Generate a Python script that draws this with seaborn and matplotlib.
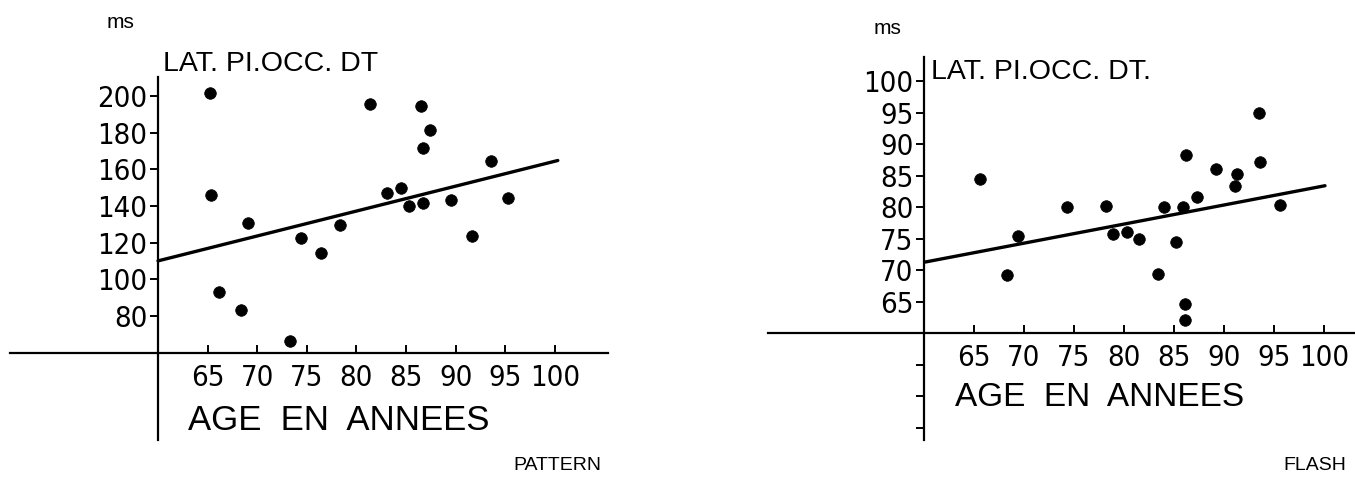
import matplotlib
matplotlib.use("Agg")
import matplotlib.pyplot as plt
from matplotlib import font_manager as fm
import seaborn as sns
import pandas as pd

# ---------------- data ----------------
pattern_age = [65.2, 65.3, 66.1, 68.4, 69.1, 73.3, 74.4, 76.4, 78.3, 81.4, 83.1,
               84.5, 85.3, 86.5, 86.7, 86.7, 87.4, 89.5, 91.7, 93.6, 95.3]
pattern_ms = [201.8, 146.0, 93.1, 83.1, 130.5, 66.7, 122.3, 114.3, 129.6, 195.6, 146.9,
              149.7, 140.2, 194.5, 171.5, 141.6, 181.2, 143.1, 123.4, 164.3, 144.2]
pattern_line_age = [60, 100.3]
pattern_line_ms = [110.1, 164.8]

flash_age = [65.6, 68.3, 69.4, 74.3, 78.2, 78.9, 80.3, 81.5, 83.4, 84.0, 85.2,
             85.9, 86.2, 86.1, 86.1, 87.3, 89.2, 91.1, 91.3, 93.5, 93.6, 95.6]
flash_ms = [84.4, 69.3, 75.4, 80.1, 80.2, 75.8, 76.1, 75.0, 69.4, 80.1, 74.5,
            80.1, 88.2, 64.7, 62.1, 81.6, 86.0, 83.4, 85.3, 95.0, 87.2, 80.4]
flash_line_age = [60.1, 100.1]
flash_line_ms = [71.3, 83.4]

x_ticks = [65, 70, 75, 80, 85, 90, 95, 100]
pattern_y_ticks = [80, 100, 120, 140, 160, 180, 200]
flash_y_ticks = [45, 50, 55, 65, 70, 75, 80, 85, 90, 95, 100]
flash_y_labels = ["", "", "", "65", "70", "75", "80", "85", "90", "95", "100"]

y_unit = "ms"
title_pattern = "LAT. PI.OCC. DT"
title_flash = "LAT. PI.OCC. DT."
x_title = "AGE  EN  ANNEES"
stim_pattern = "PATTERN"
stim_flash = "FLASH"

# ---------------- style ----------------
sns.set_theme(style="white")
plt.rcParams["font.family"] = ["Liberation Sans", "DejaVu Sans"]
plt.rcParams["text.color"] = "black"
plt.rcParams["xtick.color"] = "black"
plt.rcParams["ytick.color"] = "black"

# pick a narrow font for the tick numbers if one is installed
ttf = fm.fontManager.ttflist
names = {f.name for f in ttf}
tick_font = dict(family=["Liberation Sans", "DejaVu Sans"], fontsize=19)
if "Liberation Sans Narrow" in names:
    tick_font = dict(family=["Liberation Sans Narrow", "DejaVu Sans"], fontsize=24)
elif any(f.name == "DejaVu Sans" and str(f.stretch) in ("condensed", "semi-condensed")
         for f in ttf):
    tick_font = dict(family=["DejaVu Sans"], fontstretch="condensed", fontsize=21)
else:
    cands = sorted(f.name for f in ttf if ("Narrow" in f.name or "Condensed" in f.name))
    if cands:
        tick_font = dict(family=[cands[0], "DejaVu Sans"], fontsize=23)

W, H = 1355, 478
fig = plt.figure(figsize=(W / 100, H / 100), dpi=100)


def px_axes(x0, x1, ytop, ybot):
    return fig.add_axes([x0 / W, 1 - ybot / H, (x1 - x0) / W, (ybot - ytop) / H])


def style_axes(ax, xlim, ylim, yticks, ylabels):
    ax.set_xlim(*xlim)
    ax.set_ylim(*ylim)
    for s in ["top", "right"]:
        ax.spines[s].set_visible(False)
    ax.spines["left"].set_position(("data", 60))
    ax.spines["bottom"].set_position(("data", 60))
    for s in ["left", "bottom"]:
        ax.spines[s].set_color("black")
        ax.spines[s].set_linewidth(1.6)
    ax.set_xticks(x_ticks)
    ax.set_xticklabels([str(t) for t in x_ticks], **tick_font)
    ax.set_yticks(yticks)
    ax.set_yticklabels(ylabels, **tick_font)
    ax.tick_params(axis="x", direction="in", length=5.5, width=1.4, pad=8,
                   colors="black", bottom=True)
    ax.tick_params(axis="y", direction="out", length=5.5, width=1.4, pad=2,
                   colors="black", left=True)
    ax.set_xlabel("")
    ax.set_ylabel("")
    ax.grid(False)
    ax.patch.set_alpha(0)


# ---------------- left: PATTERN ----------------
ax1 = px_axes(10, 608, 77, 440)
df1 = pd.DataFrame({"age": pattern_age, "ms": pattern_ms})
sns.scatterplot(data=df1, x="age", y="ms", ax=ax1, color="black", s=70,
                edgecolor="black", linewidth=0.5, zorder=3)
sns.lineplot(x=pattern_line_age, y=pattern_line_ms, ax=ax1, color="black",
             linewidth=2.4, zorder=2)
style_axes(ax1, (45.08, 105.36), (12.5, 210.3), pattern_y_ticks,
           [str(t) for t in pattern_y_ticks])

# ---------------- right: FLASH ----------------
ax2 = px_axes(768, 1355, 57, 440)
df2 = pd.DataFrame({"age": flash_age, "ms": flash_ms})
sns.scatterplot(data=df2, x="age", y="ms", ax=ax2, color="black", s=70,
                edgecolor="black", linewidth=0.5, zorder=3)
sns.lineplot(x=flash_line_age, y=flash_line_ms, ax=ax2, color="black",
             linewidth=2.4, zorder=2)
style_axes(ax2, (44.4, 103.1), (43.1, 103.8), flash_y_ticks, flash_y_labels)

# ---------------- texts ----------------
def ftext(x, y, s, **kw):
    fig.text(x / W, 1 - y / H, s, color="black", **kw)


ftext(107, 22, y_unit, fontsize=15, va="center", ha="left")
ftext(163, 64, title_pattern, fontsize=20.5, va="center", ha="left")
ftext(188, 420, x_title, fontsize=25, va="center", ha="left")
ftext(601, 465, stim_pattern, fontsize=14, va="center", ha="right")

ftext(874, 28, y_unit, fontsize=15, va="center", ha="left")
ftext(931, 72, title_flash, fontsize=20.5, va="center", ha="left")
ftext(955, 398, x_title, fontsize=24, va="center", ha="left")
ftext(1346, 465, stim_flash, fontsize=14, va="center", ha="right")

fig.savefig("out.png", dpi=100, facecolor="white")
